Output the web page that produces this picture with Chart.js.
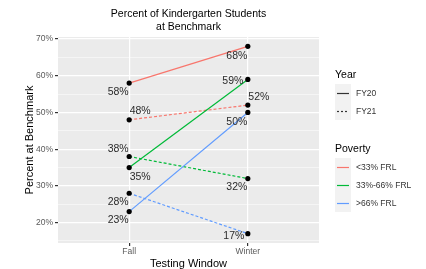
<!DOCTYPE html>
<html>
<head>
<meta charset="utf-8">
<script src="https://cdn.jsdelivr.net/npm/chart.js@4.4.0/dist/chart.umd.min.js"></script>
<style>
  body { margin: 0; background: #fff; }
  #wrap { width: 426px; height: 269px; }
</style>
</head>
<body>
<div id="wrap"><canvas id="benchmarkChart" width="426" height="269"></canvas></div>
<script>
// ---- data ----
const windows = ['Fall', 'Winter'];
const povertyGroups = ['<33% FRL', '33%-66% FRL', '>66% FRL'];
const years = ['FY20', 'FY21'];
const fy20Values = [[58, 68], [35, 59], [23, 50]];
const fy21Values = [[48, 52], [38, 32], [28, 17]];
const yTicks = [20, 30, 40, 50, 60, 70];

// ---- look ----
const groupColors = ['#F8766D', '#00BA38', '#619CFF'];
const FONT = '"Liberation Sans", Arial, sans-serif';
// label nudges (px) per dataset, per point
const labelNudge = {
  'FY20|<33% FRL': [[-11, 9], [-11, 10]],
  'FY21|<33% FRL': [[11, -9], [11, -8]],
  'FY20|33%-66% FRL': [[11, 10], [-15, 2]],
  'FY21|33%-66% FRL': [[-11, -7], [-11, 9]],
  'FY20|>66% FRL': [[-11, 9], [-11, 10]],
  'FY21|>66% FRL': [[-11, 9], [-14, 2]]
};

function buildDatasets() {
  const sets = [];
  years.forEach((yr, yi) => {
    const vals = yi === 0 ? fy20Values : fy21Values;
    povertyGroups.forEach((grp, gi) => {
      sets.push({
        label: yr + '|' + grp,
        data: vals[gi].map((v, i) => ({ x: i + 1, y: v })),
        borderColor: groupColors[gi],
        borderWidth: 1.2,
        borderDash: yi === 0 ? [] : [3, 2],
        pointRadius: 2.6,
        pointBackgroundColor: '#000',
        pointBorderColor: '#000',
        pointBorderWidth: 0,
        fill: false,
        tension: 0
      });
    });
  });
  return sets;
}

// gray panel behind the plot
const panelBg = {
  id: 'panelBg',
  beforeDraw(chart) {
    const { ctx, chartArea: a } = chart;
    ctx.save();
    ctx.fillStyle = '#EBEBEB';
    ctx.fillRect(a.left, a.top, a.right - a.left, a.bottom - a.top);
    ctx.restore();
  }
};

// point labels, titles and legend
const decorations = {
  id: 'decorations',
  afterDatasetsDraw(chart) {
    const { ctx } = chart;
    ctx.save();
    ctx.font = '10.5px ' + FONT;
    ctx.fillStyle = '#2b2b2b';
    ctx.textAlign = 'center';
    ctx.textBaseline = 'middle';
    chart.data.datasets.forEach((ds, di) => {
      const meta = chart.getDatasetMeta(di);
      meta.data.forEach((pt, i) => {
        const n = labelNudge[ds.label][i];
        ctx.fillText(ds.data[i].y + '%', pt.x + n[0], pt.y + n[1]);
      });
    });
    ctx.restore();
  },
  afterDraw(chart) {
    const { ctx, chartArea: a } = chart;
    const cx = (a.left + a.right) / 2;
    ctx.save();
    ctx.fillStyle = '#000';
    ctx.textAlign = 'center';
    ctx.textBaseline = 'middle';
    ctx.font = '10.5px ' + FONT;
    ctx.fillText('Percent of Kindergarten Students', cx, 14);
    ctx.fillText('at Benchmark', cx, 27);

    // axis titles
    ctx.font = '11px ' + FONT;
    ctx.fillText('Testing Window', cx, 264);
    ctx.save();
    ctx.translate(30, (a.top + a.bottom) / 2);
    ctx.rotate(-Math.PI / 2);
    ctx.fillText('Percent at Benchmark', 0, 0);
    ctx.restore();

    // legends
    const lx = 335;
    ctx.textAlign = 'left';
    ctx.font = '10.5px ' + FONT;
    ctx.fillText('Year', lx, 75);
    ctx.fillText('Poverty', lx, 149);

    ctx.fillStyle = '#F2F2F2';
    ctx.fillRect(lx, 84, 16, 36);
    ctx.fillRect(lx, 158, 16, 54);

    ctx.font = '8.5px ' + FONT;
    ctx.lineWidth = 1.2;
    years.forEach((yr, i) => {
      const y = 93.5 + i * 18;
      ctx.strokeStyle = '#333';
      ctx.setLineDash(i === 0 ? [] : [2, 2]);
      ctx.beginPath();
      ctx.moveTo(lx + 2, y);
      ctx.lineTo(lx + 14, y);
      ctx.stroke();
      ctx.fillStyle = '#333';
      ctx.fillText(yr, lx + 21, y);
    });
    ctx.setLineDash([]);
    povertyGroups.forEach((grp, i) => {
      const y = 167.5 + i * 18;
      ctx.strokeStyle = groupColors[i];
      ctx.beginPath();
      ctx.moveTo(lx + 2, y);
      ctx.lineTo(lx + 14, y);
      ctx.stroke();
      ctx.fillStyle = '#333';
      ctx.fillText(grp, lx + 21, y);
    });
    ctx.restore();
  }
};

const isMajor = v => yTicks.includes(v);

new Chart(document.getElementById('benchmarkChart'), {
  type: 'line',
  data: { datasets: buildDatasets() },
  options: {
    responsive: false,
    animation: false,
    layout: { padding: { top: 37, right: 107, left: 0, bottom: 0 } },
    plugins: { legend: { display: false }, title: { display: false }, tooltip: { enabled: false } },
    scales: {
      x: {
        type: 'linear',
        min: 0.4,
        max: 2.6,
        afterBuildTicks: s => { s.ticks = windows.map((w, i) => ({ value: i + 1 })); },
        afterFit: s => { s.height = 26; },
        ticks: {
          callback: v => windows[v - 1] || '',
          color: '#5A5A5A',
          font: { family: FONT, size: 8.5 },
          padding: 1,
          maxRotation: 0
        },
        grid: { color: '#fff', lineWidth: 1.2, tickColor: '#333', tickLength: 3 },
        border: { display: false }
      },
      y: {
        min: 14.45,
        max: 70.55,
        afterBuildTicks: s => {
          const t = [];
          for (let v = 15; v <= 70; v += 5) t.push({ value: v });
          s.ticks = t;
        },
        afterFit: s => { s.width = 58; },
        ticks: {
          callback: v => isMajor(v) ? v + '%' : '',
          color: '#5A5A5A',
          font: { family: FONT, size: 8.5 },
          padding: 2
        },
        grid: {
          color: '#fff',
          lineWidth: c => isMajor(c.tick.value) ? 1.2 : 0.5,
          tickColor: c => isMajor(c.tick.value) ? '#333' : 'rgba(0,0,0,0)',
          tickLength: 3
        },
        border: { display: false }
      }
    }
  },
  plugins: [panelBg, decorations]
});
</script>
</body>
</html>
